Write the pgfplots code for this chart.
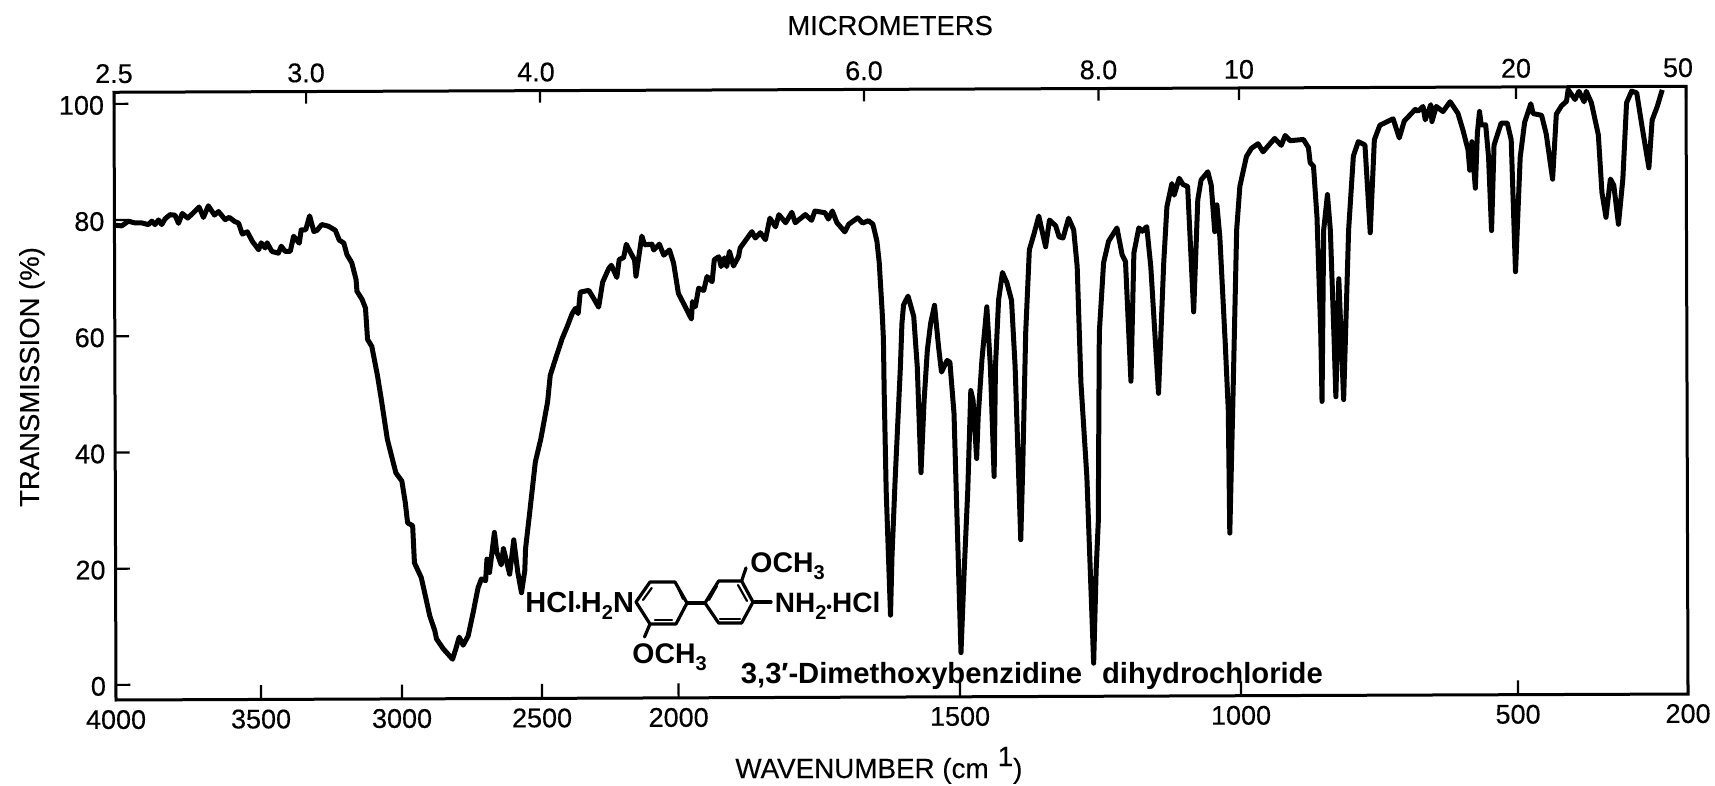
\documentclass[border=0pt]{standalone}
\usepackage{fontspec}
\setmainfont{Liberation Sans}[UprightFeatures={FakeBold=0.3}]
\usepackage{pgfplots}
\pgfplotsset{compat=1.18}

% the spectrum: wavenumber (cm-1), transmission (%)
\pgfplotstableread{
w T
3995 79.1
3975 79.0
3952 79.8
3929 79.5
3906 79.5
3883 79.2
3871 79.8
3860 79.2
3848 80.0
3837 79.2
3825 80.2
3808 80.9
3791 80.8
3779 79.4
3766 81.1
3747 80.3
3728 81.2
3708 82.2
3693 80.4
3676 82.4
3655 80.8
3641 81.4
3618 80.0
3604 80.4
3586 79.7
3572 79.4
3559 77.5
3542 77.9
3524 76.2
3503 74.8
3494 76.0
3480 75.1
3473 76.0
3456 74.5
3433 74.2
3423 75.4
3409 74.5
3391 74.5
3379 77.1
3359 75.9
3352 78.2
3336 78.2
3322 80.6
3307 77.9
3296 78.1
3279 79.1
3255 78.8
3231 78.1
3217 76.4
3201 75.9
3190 73.9
3173 72.5
3158 69.6
3155 67.6
3137 66.2
3125 64.7
3118 59.3
3103 58.1
3083 53.0
3070 49.0
3049 42.1
3031 38.6
3019 36.3
2998 34.9
2986 31.2
2978 27.7
2960 27.2
2954 20.8
2930 18.3
2918 15.7
2900 11.7
2882 9.1
2876 7.7
2852 6.0
2819 4.2
2807 6.0
2795 8.0
2781 6.6
2763 8.2
2745 12.2
2727 16.5
2715 18.0
2700 17.7
2695 21.4
2686 19.1
2668 26.0
2660 22.6
2644 20.4
2636 23.2
2614 18.8
2599 24.7
2585 19.1
2572 15.6
2560 19.4
2557 23.2
2543 28.9
2521 38.1
2501 42.1
2476 48.4
2466 53.0
2446 55.9
2422 59.3
2404 61.3
2385 63.6
2373 64.5
2363 63.6
2355 67.3
2324 67.6
2306 66.2
2288 64.7
2273 69.0
2251 71.3
2241 71.9
2221 69.8
2212 72.9
2196 73.2
2186 75.5
2172 74.2
2156 72.8
2151 70.0
2129 76.9
2119 75.4
2092 75.5
2086 74.5
2065 75.5
2049 73.6
2028 74.5
2013 72.2
1998 67.0
1989 65.3
1975 62.6
1973 65.6
1968 64.7
1962 67.9
1953 67.5
1947 69.9
1938 69.0
1934 72.8
1926 73.3
1922 71.6
1916 73.1
1912 71.6
1907 74.2
1900 71.7
1891 73.3
1888 74.8
1873 76.8
1867 77.6
1861 76.5
1852 77.4
1843 76.2
1835 79.9
1825 78.4
1819 80.5
1807 79.1
1796 80.9
1790 79.1
1772 80.5
1761 79.5
1755 81.1
1737 80.8
1731 79.7
1724 81.1
1716 79.1
1702 77.5
1695 78.8
1679 79.9
1670 79.0
1660 79.4
1652 78.8
1645 75.9
1641 72.2
1636 63.6
1634 59.0
1633 50.3
1630 33.0
1623 11.5
1620 21.7
1614 34.8
1604 54.2
1601 61.7
1598 64.9
1590 66.4
1580 62.9
1574 54.2
1568 36.0
1562 48.5
1556 57.1
1550 61.7
1543 64.8
1536 57.6
1531 53.3
1521 55.3
1516 55.0
1509 46.2
1506 34.7
1498 5.0
1492 18.7
1485 32.9
1479 50.1
1475 48.4
1469 38.4
1466 45.6
1459 55.4
1450 64.5
1444 54.2
1438 35.3
1435 54.2
1429 65.7
1422 70.4
1414 68.6
1406 65.6
1400 54.2
1391 24.4
1387 37.0
1381 60.0
1374 74.3
1366 76.9
1357 80.1
1353 78.3
1345 74.8
1338 79.4
1327 78.4
1321 76.5
1314 76.3
1304 79.7
1295 77.7
1289 71.4
1283 51.4
1273 35.2
1262 3.1
1257 19.2
1253 27.3
1250 60.0
1242 72.0
1233 75.7
1218 78.0
1209 73.4
1203 72.2
1194 51.6
1188 73.7
1179 78.0
1173 77.4
1165 78.2
1158 71.3
1145 49.5
1135 71.9
1129 81.6
1120 85.6
1116 83.6
1107 86.5
1100 85.4
1092 85.1
1082 63.5
1074 82.8
1068 86.2
1056 87.6
1050 85.3
1044 77.3
1040 81.9
1035 76.4
1026 58.1
1021 46.6
1019 25.4
1013 47.1
1005 77.6
999 85.1
987 90.2
978 91.6
966 92.4
957 91.0
936 93.3
924 92.1
917 93.8
908 92.9
884 93.1
875 91.7
872 89.1
866 88.5
860 79.7
854 60.2
852 48.0
848 77.5
841 83.6
836 77.5
830 59.1
827 48.8
821 69.1
813 48.3
803 77.5
794 90.2
785 92.7
773 92.1
764 77.0
756 93.0
746 95.5
722 96.6
711 93.3
702 96.2
682 98.2
677 97.9
668 98.7
664 96.4
654 99.0
652 96.1
644 98.7
632 97.8
619 99.5
605 97.5
596 94.6
587 91.2
584 87.7
580 92.6
574 84.6
570 94.1
566 97.8
563 95.5
555 95.5
550 90.0
545 77.3
540 92.0
527 95.8
516 95.8
509 92.9
502 70.2
493 89.9
485 95.9
474 99.1
470 97.4
455 97.1
447 93.9
436 86.1
429 97.3
420 98.7
411 99.5
408 101.5
396 99.8
389 101.2
380 99.4
376 101.2
367 99.2
355 93.7
349 83.8
342 79.5
334 86.1
328 85.0
320 78.3
312 86.1
305 99.2
296 101.2
287 100.9
278 95.2
266 88.0
260 96.2
251 98.5
242 101.4
}\spectrum

% the chart's scale is not uniform: it doubles at 2000 and drifts a little between ticks
\pgfplotsset{
  ir axis/.style={
    at={(57pt,-350pt)}, anchor=south west,
    x={(0.5pt,0.0019pt)}, y={(-0.0096pt,2.905pt)},
    x coord trafo/.code={\pgfmathparse{##1>=3500 ? (4000-##1)*0.29 : (##1>=3000 ? 145+(3500-##1)*0.282 : (##1>=2500 ? 286+(3000-##1)*0.28 : (##1>=2000 ? 426+(2500-##1)*0.2732 : (##1>=1500 ? 562.6+(2000-##1)*0.5628 : (##1>=1000 ? 844+(1500-##1)*0.562 : (##1>=500 ? 1125+(1000-##1)*0.554 : 1402+(500-##1)*0.5667))))))}},
    xmin=4000, xmax=200, ymin=-2.6, ymax=102,
    tick align=inside, clip=false,
    axis line style={line width=1.5pt},
    tick style={line width=1.1pt, black},
    minor tick num=0,
    tick label style={font=\fontsize{13.5}{15}\selectfont},
  },
}

\begin{document}
\begin{tikzpicture}[x=0.5pt,y=-0.5pt]
\useasboundingbox (0,0) rectangle (1715,786);

% wavenumber scale, transmission scale and the curve
\begin{axis}[ir axis,
    major tick length=7.2pt,
    xtick={4000,3500,3000,2500,2000,1500,1000,500,200},
    xticklabels={4000,3500,3000,2500,2000,1500,1000,500,200},
    xtick pos=bottom, ytick pos=left,
    ytick={0,20,40,60,80,100},
    /pgf/number format/assume math mode=true,
    xticklabel style={yshift=-1.5pt},
    yticklabel style={xshift=-1.5pt, yshift=-0.7pt},
]
\addplot[black, line width=2.5pt, line join=round, mark=none] table[x=w,y=T] {\spectrum};
\end{axis}

% micrometer scale along the top
\begin{axis}[ir axis,
    axis line style={draw=none},
    major tick length=6pt,
    ytick=\empty,
    xtick pos=top, xticklabel pos=top,
    xtick={4000,3333,2500,1667,1250,1000,500,200},
    xticklabels={2.5,3.0,\kern-4pt 4.0,6.0,8.0,10,20,50\kern8pt},
    xticklabel style={yshift=1pt},
]
\addplot[draw=none, forget plot] coordinates {(4000,0)(200,100)};
\end{axis}

% axis titles
\node[anchor=base west, inner sep=0, font=\fontsize{13.7}{15}\selectfont] at (787,35) {MICROMETERS};
\node[anchor=base, inner sep=0, rotate=90, font=\fontsize{13.75}{15}\selectfont] at (39,377) {TRANSMISSION (\%)};
\node[anchor=base west, inner sep=0, font=\fontsize{13.9}{15}\selectfont] at (735,778) {WAVENUMBER (cm\hspace{4.5pt}\raisebox{6pt}{1})};

% structure of the compound
\begin{scope}[line width=1.6pt, line join=round, line cap=round]
\draw (636,602) -- (650,582) -- (675,582) -- (687,603) -- (676,624) -- (650,624) -- cycle;
\draw (705,603) -- (718.6,581) -- (741.6,581) -- (753,602) -- (741.6,623) -- (718.6,623) -- cycle;
\draw (687,603) -- (705,603);
\draw (741.6,581) -- (746,568);
\draw (650,624) -- (644.5,637);
\draw (753,602) -- (771,602);
\draw[line width=1.1pt] (651.7,588) -- (643,600);
\draw[line width=1.1pt] (655,620) -- (672,620);
\draw[line width=1.1pt] (678,588) -- (683,599);
\draw[line width=1.1pt] (717,586) -- (709,600);
\draw[line width=1.1pt] (738,585) -- (747,601);
\draw[line width=1.1pt] (720,619) -- (740,619);
\end{scope}
\begin{scope}[every node/.style={anchor=base west, inner sep=0}]
\node[font=\fontsize{14.5}{15}\selectfont\bfseries] at (525,612) {HCl{\fontsize{8}{8}\selectfont\textbullet}H\raisebox{-3.5pt}{\fontsize{10}{10}\selectfont 2}N};
\node[font=\fontsize{14}{15}\selectfont\bfseries] at (774.5,612) {NH\raisebox{-3.5pt}{\fontsize{10}{10}\selectfont 2}{\fontsize{8}{8}\selectfont\textbullet}HCl};
\node[font=\fontsize{14.2}{15}\selectfont\bfseries] at (750,572) {OCH\raisebox{-3.5pt}{\fontsize{10}{10}\selectfont 3}};
\node[font=\fontsize{14.2}{15}\selectfont\bfseries] at (632,663) {OCH\raisebox{-3.5pt}{\fontsize{10}{10}\selectfont 3}};
\node[font=\fontsize{14.6}{15}\selectfont\bfseries] at (740.5,683) {3,3′-Dimethoxybenzidine\hspace{10pt}dihydrochloride};
\end{scope}
\end{tikzpicture}
\end{document}
